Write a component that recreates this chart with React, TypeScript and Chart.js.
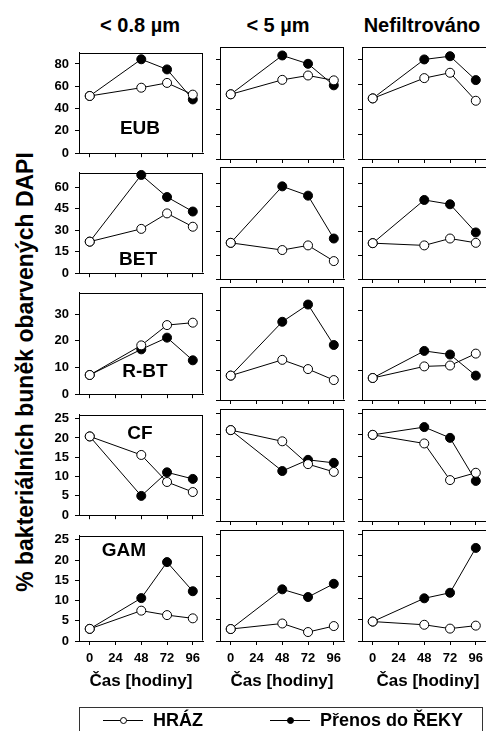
import React, { useEffect, useRef } from 'react';
import { Chart, registerables } from 'chart.js';

Chart.register(...registerables);

const FONT = '"Liberation Sans", Arial, Helvetica, sans-serif';

// ---------- data ----------
const hours = [0, 48, 72, 96];
const xTickValues = [0, 24, 48, 72, 96];
const columnTitles = ['< 0.8 µm', '< 5 µm', 'Nefiltrováno'];
const groupLabels = ['EUB', 'BET', 'R-BT', 'CF', 'GAM'];
const seriesNames = ['HRÁZ', 'Přenos do ŘEKY'];
const xTitle = 'Čas [hodiny]';
const yTitle = '% bakteriálních buněk obarvených DAPI';

const yTicksEUB = [0, 20, 40, 60, 80];
const yTicksBET = [0, 15, 30, 45, 60];
const yTicksRBT = [0, 10, 20, 30];
const yTicksCF = [0, 5, 10, 15, 20, 25];
const yTicksGAM = [0, 5, 10, 15, 20, 25];
const yMaxByRow = [90, 70, 38, 26, 26];

// values per column: [< 0.8 µm, < 5 µm, Nefiltrováno], each at hours 0, 48, 72, 96
const hrazEUB = [[51.3, 58.7, 63.0, 52.5], [52.0, 63.6, 67.1, 63.2], [48.7, 65.0, 69.3, 46.8]];
const prenosEUB = [[51.3, 84.2, 75.1, 48.2], [52.0, 83.2, 76.5, 59.2], [48.7, 80.0, 82.6, 63.4]];

const hrazBET = [[22.0, 30.9, 41.7, 32.4], [22.6, 18.1, 21.0, 11.2], [22.4, 21.0, 25.3, 22.6]];
const prenosBET = [[22.0, 68.5, 53.1, 43.0], [22.6, 57.9, 52.1, 25.3], [22.4, 49.4, 46.7, 29.1]];

const hrazRBT = [[7.2, 18.3, 25.9, 26.8], [8.2, 13.5, 10.4, 6.7], [7.4, 11.3, 11.6, 15.6]];
const prenosRBT = [[7.2, 16.8, 21.2, 12.7], [8.2, 26.3, 32.1, 18.5], [7.4, 16.5, 15.3, 8.2]];

const hrazCF = [[20.4, 15.6, 8.6, 6.0], [21.1, 18.5, 13.2, 11.4], [20.0, 18.0, 9.5, 11.2]];
const prenosCF = [[20.4, 5.0, 11.1, 9.4], [21.1, 11.6, 14.2, 13.5], [20.0, 21.8, 19.3, 9.3]];

const hrazGAM = [[3.0, 7.5, 6.4, 5.6], [2.8, 4.1, 2.1, 3.5], [4.55, 3.8, 2.9, 3.6]];
const prenosGAM = [[3.0, 10.6, 19.5, 12.3], [2.8, 12.1, 10.3, 13.4], [4.55, 10.0, 11.3, 21.8]];

const hrazRows = [hrazEUB, hrazBET, hrazRBT, hrazCF, hrazGAM];
const prenosRows = [prenosEUB, prenosBET, prenosRBT, prenosCF, prenosGAM];
const yTickRows = [yTicksEUB, yTicksBET, yTicksRBT, yTicksCF, yTicksGAM];

// ---------- layout ----------
const colLeft = [79, 220, 362];
const colWidth = [124, 124, 132];
const rowTop = [47, 167, 287, 409, 530];
const panelH = [112, 112, 113, 112, 111];
const L = 45;
const T = 8;
const R = 8;
const X_MIN = -10;
const X_SPAN_PER_124PX = 115.5;

const labelPos = [
  { x: 140, y: 127 },
  { x: 138, y: 258 },
  { x: 145, y: 370 },
  { x: 140, y: 432 },
  { x: 124, y: 549 },
];

const boxPlugin = {
  id: 'panelBox',
  beforeDatasetsDraw(chart: any, _args: any, opts: any) {
    const { ctx, chartArea } = chart;
    const l = Math.round(chartArea.left) + 0.5;
    const t = Math.round(chartArea.top) + 0.5;
    const r = Math.round(chartArea.right) - 0.5;
    const b = Math.round(chartArea.bottom) - 0.5;
    ctx.save();
    ctx.strokeStyle = '#000';
    ctx.lineWidth = 1;
    ctx.beginPath();
    ctx.moveTo(l, b);
    ctx.lineTo(l, t);
    ctx.lineTo(r + 0.5, t);
    if (!opts.noRight) {
      ctx.moveTo(r, t);
      ctx.lineTo(r, b);
    }
    ctx.stroke();
    ctx.restore();
  },
};

function Panel({ row, col }: { row: number; col: number }) {
  const ref = useRef<HTMLCanvasElement>(null);
  const isBottom = row === 4;
  const isLeft = col === 0;
  const B = isBottom ? 51 : 8;
  const pw = colWidth[col];
  const w = L + pw + R;
  const h = T + panelH[row] + B;
  const xMax = X_MIN + (pw * X_SPAN_PER_124PX) / 124;

  useEffect(() => {
    if (!ref.current) return;
    const mk = (vals: number[]) => hours.map((x, i) => ({ x, y: vals[i] }));
    const common = {
      borderColor: '#000',
      borderWidth: 1,
      pointRadius: 4.5,
      pointHoverRadius: 4.5,
      pointBorderColor: '#000',
      pointBorderWidth: 1,
      tension: 0,
      clip: false as const,
    };
    const gridOpts = {
      drawOnChartArea: false,
      drawTicks: true,
      tickLength: 4,
      color: '#000',
      lineWidth: 1,
    };
    const chart = new Chart(ref.current, {
      type: 'line',
      data: {
        datasets: [
          { ...common, label: seriesNames[0], data: mk(hrazRows[row][col]), pointBackgroundColor: '#fff' },
          { ...common, label: seriesNames[1], data: mk(prenosRows[row][col]), pointBackgroundColor: '#000' },
        ],
      },
      options: {
        responsive: false,
        animation: false,
        devicePixelRatio: 1,
        events: [],
        layout: { padding: { top: T, right: R, left: 0, bottom: 0 } },
        plugins: {
          legend: { display: false },
          tooltip: { enabled: false },
          panelBox: { noRight: col === 2 },
        },
        scales: {
          x: {
            type: 'linear',
            min: X_MIN,
            max: xMax,
            afterBuildTicks: (s: any) => {
              s.ticks = xTickValues.map((v) => ({ value: v }));
            },
            afterFit: (s: any) => {
              s.height = B;
            },
            grid: gridOpts,
            border: { display: true, color: '#000', width: 1 },
            ticks: {
              display: isBottom,
              padding: 6,
              color: '#000',
              maxRotation: 0,
              autoSkip: false,
              font: { family: FONT, size: 13, weight: 'bold' },
            },
            title: {
              display: isBottom,
              text: xTitle,
              color: '#000',
              padding: 0,
              font: { family: FONT, size: 17, weight: 'bold' },
            },
          },
          y: {
            type: 'linear',
            min: 0,
            max: yMaxByRow[row],
            afterBuildTicks: (s: any) => {
              s.ticks = yTickRows[row].map((v) => ({ value: v }));
            },
            afterFit: (s: any) => {
              s.width = L;
            },
            grid: gridOpts,
            border: { display: true, color: '#000', width: 1 },
            ticks: {
              display: isLeft,
              padding: 6,
              color: '#000',
              autoSkip: false,
              font: { family: FONT, size: 13, weight: 'bold' },
            },
          },
        },
      },
      plugins: [boxPlugin],
    } as any);
    return () => chart.destroy();
  }, [row, col]);

  return (
    <canvas
      ref={ref}
      width={w}
      height={h}
      style={{
        position: 'absolute',
        left: colLeft[col] - L,
        top: rowTop[row] - T,
        width: w,
        height: h,
      }}
    />
  );
}

const textBase: React.CSSProperties = {
  position: 'absolute',
  fontFamily: FONT,
  fontWeight: 'bold',
  color: '#000',
  whiteSpace: 'nowrap',
  lineHeight: 1,
  transform: 'translate(-50%, -50%)',
};

export default function App() {
  const titleCenters = [140, 278, 422];
  return (
    <div
      style={{
        position: 'absolute',
        left: 0,
        top: 0,
        width: 486,
        height: 731,
        overflow: 'hidden',
        background: '#fff',
      }}
    >
      {columnTitles.map((t, i) => (
        <div key={t} style={{ ...textBase, left: titleCenters[i], top: 25, fontSize: 20 }}>
          {t}
        </div>
      ))}
      <div
        style={{
          ...textBase,
          left: 25,
          top: 372,
          fontSize: 23,
          transform: 'translate(-50%, -50%) rotate(-90deg)',
        }}
      >
        {yTitle}
      </div>
      {groupLabels.map((_, r) =>
        [0, 1, 2].map((c) => <Panel key={`${r}-${c}`} row={r} col={c} />)
      )}
      {groupLabels.map((g, r) => (
        <div key={g} style={{ ...textBase, left: labelPos[r].x, top: labelPos[r].y, fontSize: 19 }}>
          {g}
        </div>
      ))}
      <div
        style={{
          position: 'absolute',
          left: 79,
          top: 707,
          width: 402,
          height: 40,
          border: '1px solid #333',
        }}
      />
      {[0, 1].map((i) => {
        const lineX = i === 0 ? 103 : 270;
        const textX = i === 0 ? 153 : 320;
        return (
          <React.Fragment key={i}>
            <div
              style={{
                position: 'absolute',
                left: lineX,
                top: 720,
                width: 40,
                height: 0,
                borderTop: '1px solid #000',
              }}
            />
            <div
              style={{
                position: 'absolute',
                left: lineX + 20 - 3.5,
                top: 720.5 - 3.5,
                width: 5,
                height: 5,
                borderRadius: '50%',
                border: '1px solid #000',
                background: i === 0 ? '#fff' : '#000',
              }}
            />
            <div
              style={{
                ...textBase,
                left: textX,
                top: 720,
                fontSize: 18,
                transform: 'translate(0, -50%)',
              }}
            >
              {seriesNames[i]}
            </div>
          </React.Fragment>
        );
      })}
    </div>
  );
}
